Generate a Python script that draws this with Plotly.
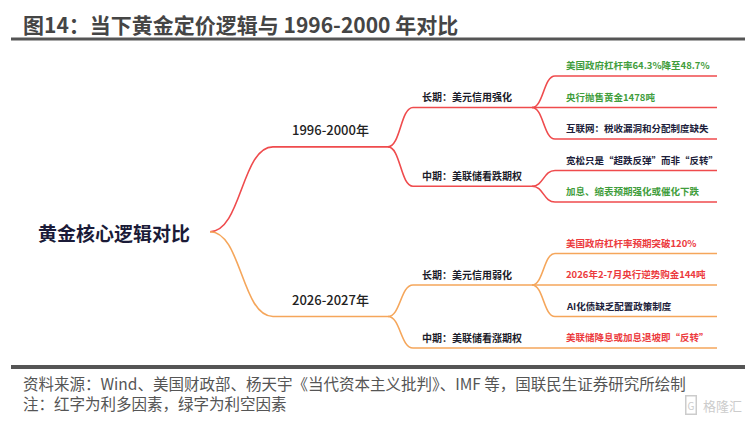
import plotly.graph_objects as go

# conteudo do mapa mental
raiz = "黄金核心逻辑对比"
periodos = ["1996-2000年", "2026-2027年"]
horizontes = ["长期：美元信用强化", "中期：美联储看跌期权",
              "长期：美元信用弱化", "中期：美联储看涨期权"]
horizonte_periodo = [0, 0, 1, 1]
fatores = ["美国政府杠杆率64.3%降至48.7%",
           "央行抛售黄金1478吨",
           "互联网：税收漏洞和分配制度缺失",
           "宽松只是“超跌反弹”而非“反转”",
           "加息、缩表预期强化或催化下跌",
           "美国政府杠杆率预期突破120%",
           "2026年2-7月央行逆势购金144吨",
           "AI化债缺乏配置政策制度",
           "美联储降息或加息退坡即“反转”"]
fator_horizonte = [0, 0, 0, 1, 1, 2, 2, 2, 3]
fator_efeito = ["利空", "利空", "中性", "中性", "利空", "利多", "利多", "中性", "利多"]

titulo = "图14：当下黄金定价逻辑与 1996-2000 年对比"
fonte = "资料来源：Wind、美国财政部、杨天宇《当代资本主义批判》、IMF 等，国联民生证券研究所绘制"
nota = "注：红字为利多因素，绿字为利空因素"

FONTE = "Noto Sans CJK SC"
cor_ramo = ["#ef4b4d", "#f5a65b"]
cor_efeito = {"利空": "#3f9d3c", "利多": "#ec3a3d", "中性": "#1c1d3a"}

# layout em "pixels" da pagina; o body do navegador tem 8px de margem
W, H = 753, 424
M = 8
inicio = [None, 273, 413, 555]
fim = [210, 388, 532, 717]
passo = 31.5
separacao = 20

# posicoes verticais das folhas
y_folha = []
y = 76
for i, h in enumerate(fator_horizonte):
    if i > 0:
        y += passo
        if horizonte_periodo[h] != horizonte_periodo[fator_horizonte[i - 1]]:
            y += separacao
    y_folha.append(y)

y_horiz = []
for h in range(len(horizontes)):
    ys = [y_folha[i] for i, p in enumerate(fator_horizonte) if p == h]
    y_horiz.append((min(ys) + max(ys)) / 2)

y_per = []
for p in range(len(periodos)):
    ys = [y_horiz[h] for h, q in enumerate(horizonte_periodo) if q == p]
    y_per.append((min(ys) + max(ys)) / 2)

y_raiz = (min(y_per) + max(y_per)) / 2


def ramo(nivel, y0, y1, cor):
    x0 = fim[nivel - 1]
    x1 = inicio[nivel]
    x2 = fim[nivel]
    m = (x0 + x1) / 2
    caminho = f"M {x0},{y0} C {m},{y0} {m},{y1} {x1},{y1} L {x2},{y1}"
    return dict(type="path", path=caminho, xref="x", yref="y",
                line=dict(color=cor, width=1.6), layer="above")


fig = go.Figure()
shapes = []
annotations = []

for p, nome in enumerate(periodos):
    shapes.append(ramo(1, y_raiz, y_per[p], cor_ramo[p]))
    annotations.append(dict(x=(inicio[1] + fim[1]) / 2, y=y_per[p] - 17, text=nome,
                            xanchor="center", yanchor="middle",
                            font=dict(family=FONTE, size=13, color="#222222", weight=500)))

for h, nome in enumerate(horizontes):
    p = horizonte_periodo[h]
    shapes.append(ramo(2, y_per[p], y_horiz[h], cor_ramo[p]))
    annotations.append(dict(x=inicio[2] + 7, y=y_horiz[h] - 11, text=nome,
                            xanchor="left", yanchor="middle",
                            font=dict(family=FONTE, size=10, color="#1c1d2a", weight="bold")))

for i, nome in enumerate(fatores):
    h = fator_horizonte[i]
    p = horizonte_periodo[h]
    shapes.append(ramo(3, y_horiz[h], y_folha[i], cor_ramo[p]))
    annotations.append(dict(x=inicio[3] + 9, y=y_folha[i] - 11, text=nome,
                            xanchor="left", yanchor="middle",
                            font=dict(family=FONTE, size=9.5, color=cor_efeito[fator_efeito[i]],
                                      weight="bold")))

annotations.append(dict(x=114, y=y_raiz + 1, text=raiz, xanchor="center", yanchor="middle",
                        font=dict(family=FONTE, size=19, color="#1b1b38", weight="bold")))

# titulo, regras e rodape
annotations.append(dict(x=21, y=24, text=titulo, xanchor="left", yanchor="middle",
                        font=dict(family=FONTE, size=21, color="#454545", weight="bold")))
shapes.append(dict(type="line", x0=11, x1=745, y0=39, y1=39, xref="x", yref="y",
                   line=dict(color="#555555", width=3)))
shapes.append(dict(type="line", x0=11, x1=745, y0=367, y1=367, xref="x", yref="y",
                   line=dict(color="#555555", width=4)))
annotations.append(dict(x=21, y=383, text=fonte, xanchor="left", yanchor="middle",
                        font=dict(family=FONTE, size=15.5, color="#555555")))
annotations.append(dict(x=21, y=403, text=nota, xanchor="left", yanchor="middle",
                        font=dict(family=FONTE, size=15.5, color="#555555")))
annotations.append(dict(x=744, y=405, text="格隆汇", xanchor="right", yanchor="middle",
                        font=dict(family=FONTE, size=13, color="#cccccc")))
annotations.append(dict(x=691, y=405, text="G", xanchor="center", yanchor="middle",
                        bordercolor="#cccccc", borderwidth=1.5, borderpad=1,
                        font=dict(family=FONTE, size=10, color="#cccccc")))

for a in annotations:
    a.setdefault("showarrow", False)
    a.setdefault("xref", "x")
    a.setdefault("yref", "y")

fig.update_layout(width=W - 2 * M, height=H - 2 * M, margin=dict(l=0, r=0, t=0, b=0),
                  paper_bgcolor="white", plot_bgcolor="white",
                  shapes=shapes, annotations=annotations, showlegend=False,
                  xaxis=dict(range=[M, W - M], visible=False, fixedrange=True),
                  yaxis=dict(range=[H - M, M], visible=False, fixedrange=True))

fig.write_html("out.html")
